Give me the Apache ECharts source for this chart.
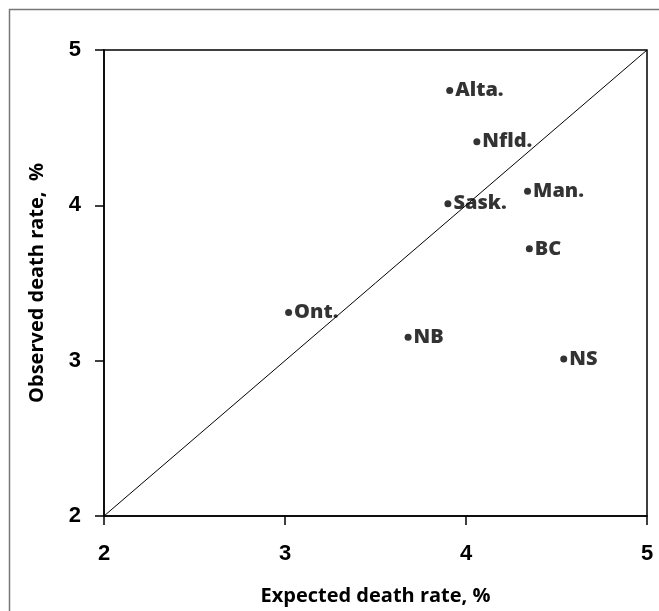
<!DOCTYPE html>
<html><head><meta charset="utf-8">
<script src="https://cdn.jsdelivr.net/npm/echarts@6/dist/echarts.min.js"></script>
<style>html,body{margin:0;padding:0;background:#fff}#c{width:659px;height:611px}</style>
</head><body><div id="c"></div>
<script>
const provinces = ["Alta.", "Nfld.", "Man.", "Sask.", "BC", "Ont.", "NB", "NS"];
const expected = [3.91, 4.06, 4.34, 3.90, 4.35, 3.02, 3.68, 4.54];
const observed = [4.74, 4.41, 4.09, 4.01, 3.72, 3.31, 3.15, 3.01];
const identityLine = [[2, 2], [5, 5]];
const axisMin = 2, axisMax = 5, axisStep = 1;
const xTitle = "Expected death rate, %";
const yTitle = "Observed death rate,  %";

const chart = echarts.init(document.getElementById('c'), null, {renderer: 'canvas'});
const pts = provinces.map((p, i) => ({name: p, value: [expected[i], observed[i]]}));
const axisCommon = {
  type: 'value', min: axisMin, max: axisMax, interval: axisStep,
  splitLine: {show: false},
  axisLine: {show: true, onZero: false, lineStyle: {color: '#000', width: 1.5}},
  axisTick: {show: true, inside: false, length: 9, lineStyle: {color: '#000', width: 1.5}},
  axisLabel: {color: '#000', fontFamily: 'Liberation Sans', fontWeight: 'bold', fontSize: 22}
};
const titleFont = {color: '#000', fontFamily: 'Open Sans', fontWeight: 'bold', fontSize: 20};
chart.setOption({
  animation: false,
  backgroundColor: '#fff',
  graphic: [{type: 'rect', shape: {x: 9.5, y: 9.5, width: 700, height: 700}, style: {fill: 'none', stroke: '#777', lineWidth: 1.5}, z: -1}],
  grid: {left: 104, right: 12, top: 50, bottom: 95, show: true, borderColor: '#000', borderWidth: 1.5, backgroundColor: 'transparent'},
  xAxis: Object.assign({}, axisCommon, {
    name: xTitle, nameLocation: 'middle', nameGap: 70,
    nameTextStyle: titleFont,
    axisLabel: Object.assign({}, axisCommon.axisLabel, {margin: 27})
  }),
  yAxis: Object.assign({}, axisCommon, {
    name: yTitle, nameLocation: 'middle', nameGap: 57,
    nameTextStyle: titleFont,
    axisLabel: Object.assign({}, axisCommon.axisLabel, {margin: 23})
  }),
  series: [
    {type: 'line', data: identityLine, symbol: 'none', lineStyle: {color: '#000', width: 1}, silent: true, z: 1},
    {type: 'scatter', data: pts, symbol: 'circle', symbolSize: 7, itemStyle: {color: '#000'}, z: 3,
      label: {show: true, position: 'right', distance: 2, formatter: '{b}', color: '#000',
        fontFamily: 'Open Sans', fontWeight: 800, fontSize: 20}}
  ]
});
</script></body></html>
